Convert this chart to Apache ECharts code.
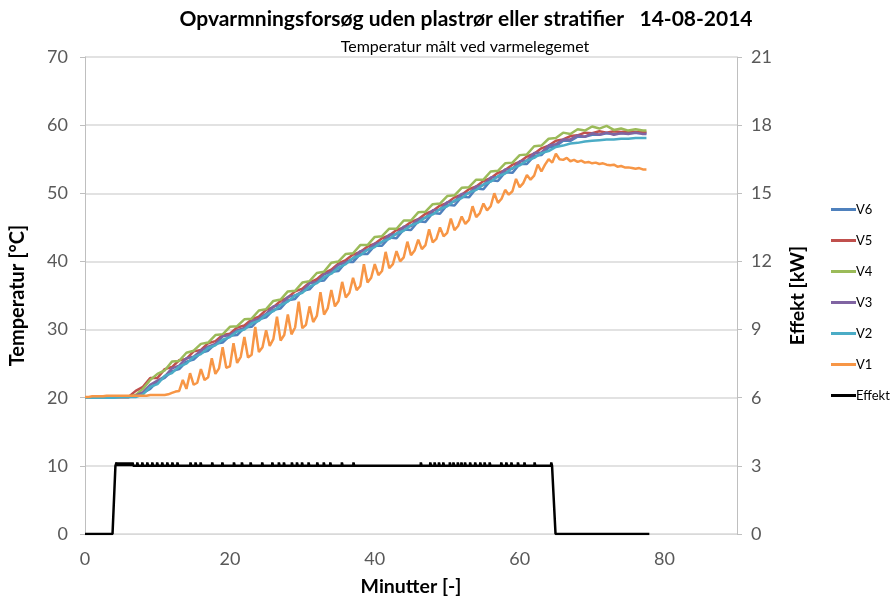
<!DOCTYPE html>
<html>
<head>
<meta charset="utf-8">
<script src="https://cdn.jsdelivr.net/npm/echarts@6/dist/echarts.min.js"></script>
<style>
html,body{margin:0;padding:0;background:#fff;}
#chart{width:890px;height:601px;}
</style>
</head>
<body>
<div id="chart"></div>
<script>
// ---- data ----
const titleText = 'Opvarmningsforsøg uden plastrør eller stratifier   14-08-2014';
const subtitleText = 'Temperatur målt ved varmelegemet';
const seriesNames = ['V6', 'V5', 'V4', 'V3', 'V2', 'V1', 'Effekt'];

// sample times (minutes) for V2..V6 and for V1
const minutes = [0,1,2,3,4,5,6,7,8,9,10,11,12,13,14,15,16,17,18,19,20,21,22,23,24,25,26,27,28,29,30,31,32,33,34,35,36,37,38,39,40,41,42,43,44,45,46,47,48,49,50,51,52,53,54,55,56,57,58,59,60,61,62,63,64,65,66,67,68,69,70,71,72,73,74,75,76,77,77.5];
const minutesV1 = [];
for (let i = 0; i <= 155; i++) minutesV1.push(i / 2);

const V6 = [20.0,20.0,20.0,20.0,20.1,20.1,20.1,
20.2,20.7,21.3,22.4,22.9,23.9,24.2,25.3,25.6,26.6,26.9,27.9,28.1,29.1,29.2,30.3,30.4,31.5,31.8,32.9,33.1,34.3,34.5,35.7,35.9,37.1,37.2,38.5,38.6,39.9,39.9,41.1,41.1,42.3,42.3,43.5,43.4,44.7,44.6,45.9,45.8,47.1,47.0,48.3,48.2,49.5,49.4,50.7,50.6,51.9,51.8,53.1,53.0,54.3,54.3,55.5,55.6,56.7,56.9,57.7,57.7,58.3,58.3,58.6,58.6,58.8,58.7,58.8,58.8,58.9,58.8,58.8];
const V5 = [20.0,20.0,20.0,20.1,20.1,20.1,20.1,
21.0,21.6,22.9,22.9,24.2,24.5,25.5,25.7,26.8,27.0,28.0,28.3,29.2,29.4,30.3,30.6,31.5,31.9,32.9,33.3,34.2,34.7,35.6,36.0,36.9,37.4,38.3,38.8,39.7,40.2,41.0,41.4,42.2,42.6,43.4,43.8,44.6,45.0,45.8,46.2,47.0,47.4,48.2,48.6,49.4,49.8,50.6,51.0,51.8,52.2,53.0,53.4,54.2,54.6,55.4,55.8,56.6,57.0,57.7,57.9,58.4,58.5,58.9,58.8,59.1,58.9,59.1,59.0,59.1,59.0,59.0,59.0];
const V4 = [20.0,20.0,20.0,20.0,20.1,20.1,20.1,
20.4,21.3,22.6,23.5,24.0,25.3,25.4,26.6,26.9,27.9,28.1,29.2,29.3,30.4,30.5,31.5,31.6,32.8,33.0,34.2,34.4,35.6,35.7,36.9,37.1,38.3,38.5,39.8,40.0,41.1,41.2,42.4,42.4,43.6,43.7,44.8,44.8,46.0,46.0,47.2,47.3,48.4,48.5,49.6,49.7,50.8,50.9,52.0,52.0,53.2,53.3,54.4,54.5,55.6,55.7,56.9,57.0,58.0,58.1,58.9,58.7,59.4,59.2,59.8,59.5,59.9,59.3,59.5,59.2,59.4,59.2,59.2];
const V3 = [20.0,20.0,20.0,20.0,20.1,20.1,20.1,
20.3,20.8,21.9,22.5,23.1,24.3,24.7,25.8,26.0,26.9,27.5,27.9,29.0,29.2,29.9,30.2,31.2,31.6,32.3,33.4,33.6,34.8,35.0,35.6,36.8,37.0,38.1,38.5,39.5,39.9,40.4,41.5,41.7,42.6,42.8,43.9,44.0,45.1,45.2,46.2,46.4,47.5,47.6,48.7,48.8,49.9,50.0,51.0,51.2,52.3,52.4,53.5,53.6,54.7,54.8,55.9,56.0,57.0,57.2,57.9,57.9,58.5,58.3,58.8,58.6,58.9,58.6,58.8,58.7,58.9,58.7,58.7];
const V2 = [20.0,20.0,20.0,20.0,20.0,20.1,20.1,
20.1,20.5,21.6,22.0,23.2,23.6,24.6,25.0,26.0,26.4,27.3,27.7,28.5,28.9,29.7,30.0,30.9,31.3,32.2,32.7,33.6,34.1,35.0,35.4,36.3,36.8,37.7,38.2,39.1,39.6,40.5,40.9,41.7,42.1,42.9,43.3,44.1,44.5,45.3,45.7,46.5,46.9,47.7,48.1,48.9,49.3,50.1,50.5,51.3,51.7,52.5,52.9,53.7,54.1,54.8,55.2,55.9,56.2,56.8,57.0,57.3,57.4,57.6,57.7,57.8,57.9,57.9,58.0,58.0,58.1,58.1,58.1];
const V1 = [20.1,20.1,20.2,20.2,20.2,20.2,20.3,20.3,20.3,20.3,20.3,20.3,20.3,20.3,20.3,20.3,20.3,20.3,20.4,20.4,20.4,20.4,20.4,20.5,
20.7,20.9,21.0,22.6,21.3,23.6,21.9,22.2,24.2,22.6,23.0,25.8,23.5,24.3,27.4,24.4,24.6,28.0,25.1,26.0,28.9,25.9,26.3,30.4,26.7,27.4,
29.9,27.6,28.6,31.9,28.4,29.2,32.2,29.3,30.3,34.1,30.2,30.7,33.4,31.1,32.0,35.5,32.2,33.1,35.8,33.4,34.2,37.0,34.7,35.4,37.6,35.8,
36.4,39.6,36.9,37.6,39.6,38.0,38.6,41.4,39.0,39.6,41.5,40.0,40.6,42.9,40.9,41.6,43.2,41.8,42.4,44.7,42.8,43.3,45.0,43.7,44.2,46.3,
44.6,45.2,46.6,45.5,46.1,48.1,46.5,47.1,48.5,47.5,48.1,50.0,48.6,49.2,50.5,49.8,50.3,52.1,50.9,51.5,52.7,52.0,52.6,54.2,53.2,54.2,
55.0,54.5,55.8,55.0,54.9,55.2,54.7,54.9,54.6,54.8,54.5,54.6,54.4,54.5,54.3,54.4,54.2,54.1,54.2,53.9,54.0,53.8,53.8,53.7,53.6,53.7,53.5,53.5];

// heater power [kW]: step breakpoints and short on/off switching spikes
const effektSteps = [[0,0],[3.8,0],[4.2,3],[64.6,3],[64.95,0],[77.9,0]];
const effektSpikeLevel = 3;
const effektSpikePeak = 3.15;
const effektSpikeTimes = [4.4,4.6,4.8,5.0,5.2,5.4,5.6,5.8,6.0,6.2,6.4,6.6,
7.26,7.95,8.64,9.33,10.0,10.7,11.4,12.1,12.8,14.6,15.3,16.0,17.6,19.0,20.6,21.7,22.9,24.5,25.9,26.8,27.5,28.6,29.3,30.0,30.9,32.1,33.0,33.9,35.5,37.1,
46.4,47.7,48.3,48.9,49.5,50.4,50.9,51.5,52.0,52.5,53.2,53.9,54.6,55.2,55.9,57.5,58.2,58.9,59.8,60.7,62.1,64.4];

// ---- build ----
function pairs(xs, ys) { return ys.map((y, i) => [xs[i], y]); }
const effektData = effektSteps.slice();
effektSpikeTimes.forEach(t => {
  effektData.push([t - 0.07, effektSpikeLevel], [t - 0.04, effektSpikePeak], [t + 0.04, effektSpikePeak], [t + 0.07, effektSpikeLevel]);
});
effektData.sort((a, b) => a[0] - b[0]);

const colors = {V6:'#4F81BD', V5:'#C0504D', V4:'#9BBB59', V3:'#8064A2', V2:'#4BACC6', V1:'#F79646', Effekt:'#000000'};
const tempData = {V6: pairs(minutes, V6), V5: pairs(minutes, V5), V4: pairs(minutes, V4), V3: pairs(minutes, V3), V2: pairs(minutes, V2), V1: pairs(minutesV1, V1)};

const FONT = 'Lato';
const series = seriesNames.map(name => ({
  name: name,
  type: 'line',
  yAxisIndex: name === 'Effekt' ? 1 : 0,
  data: name === 'Effekt' ? effektData : tempData[name],
  showSymbol: false,
  symbol: 'none',
  animation: false,
  lineStyle: {color: colors[name], width: 2.5},
  itemStyle: {color: colors[name]}
}));

const chart = echarts.init(document.getElementById('chart'), null, {renderer: 'canvas'});
chart.setOption({
  animation: false,
  backgroundColor: '#fff',
  textStyle: {fontFamily: FONT},
  title: [
    {text: titleText, left: 461, top: 4, textAlign: 'center',
     textStyle: {fontFamily: FONT, fontSize: 21, fontWeight: 'bold', color: '#000'}},
    {text: subtitleText, left: 460, top: 34, textAlign: 'center',
     textStyle: {fontFamily: FONT, fontSize: 16, fontWeight: 'normal', color: '#000'}}
  ],
  legend: {
    orient: 'vertical', left: 826, top: 198, itemGap: 18,
    itemWidth: 25, itemHeight: 3, icon: 'rect',
    textStyle: {fontFamily: FONT, fontSize: 13, color: '#000', padding: [0,0,0,-5]},
    data: seriesNames
  },
  grid: {left: 85, right: 153, top: 57, bottom: 67, containLabel: false, outerBoundsMode: 'none'},
  xAxis: {
    type: 'value', min: 0, max: 90, interval: 20,
    name: 'Minutter [-]', nameLocation: 'middle', nameGap: 43,
    nameTextStyle: {fontFamily: FONT, fontSize: 19.5, fontWeight: 'bold', color: '#000'},
    axisLine: {show: true, lineStyle: {color: '#d9d9d9', width: 1}},
    axisTick: {show: false},
    splitLine: {show: false},
    axisLabel: {fontFamily: FONT, fontSize: 18, color: '#595959', margin: 16, showMaxLabel: false}
  },
  yAxis: [
    {
      type: 'value', min: 0, max: 70, interval: 10,
      name: 'Temperatur [°C]', nameLocation: 'middle', nameGap: 57, nameRotate: 90,
      nameTextStyle: {fontFamily: FONT, fontSize: 20, fontWeight: 'bold', color: '#000'},
      axisLine: {show: true, lineStyle: {color: '#bfbfbf', width: 1}},
      axisTick: {show: true, length: 5, lineStyle: {color: '#bfbfbf'}},
      splitLine: {show: true, lineStyle: {color: '#d9d9d9', width: 1.5}},
      axisLabel: {fontFamily: FONT, fontSize: 18, color: '#595959', margin: 17}
    },
    {
      type: 'value', min: 0, max: 21, interval: 3, position: 'right',
      name: 'Effekt [kW]', nameLocation: 'middle', nameGap: 51, nameRotate: 90,
      nameTextStyle: {fontFamily: FONT, fontSize: 19.5, fontWeight: 'bold', color: '#000'},
      axisLine: {show: true, lineStyle: {color: '#bfbfbf', width: 1}},
      axisTick: {show: true, length: 5, lineStyle: {color: '#bfbfbf'}},
      splitLine: {show: false},
      axisLabel: {fontFamily: FONT, fontSize: 18, color: '#595959', margin: 14}
    }
  ],
  series: series
});
</script>
</body>
</html>
